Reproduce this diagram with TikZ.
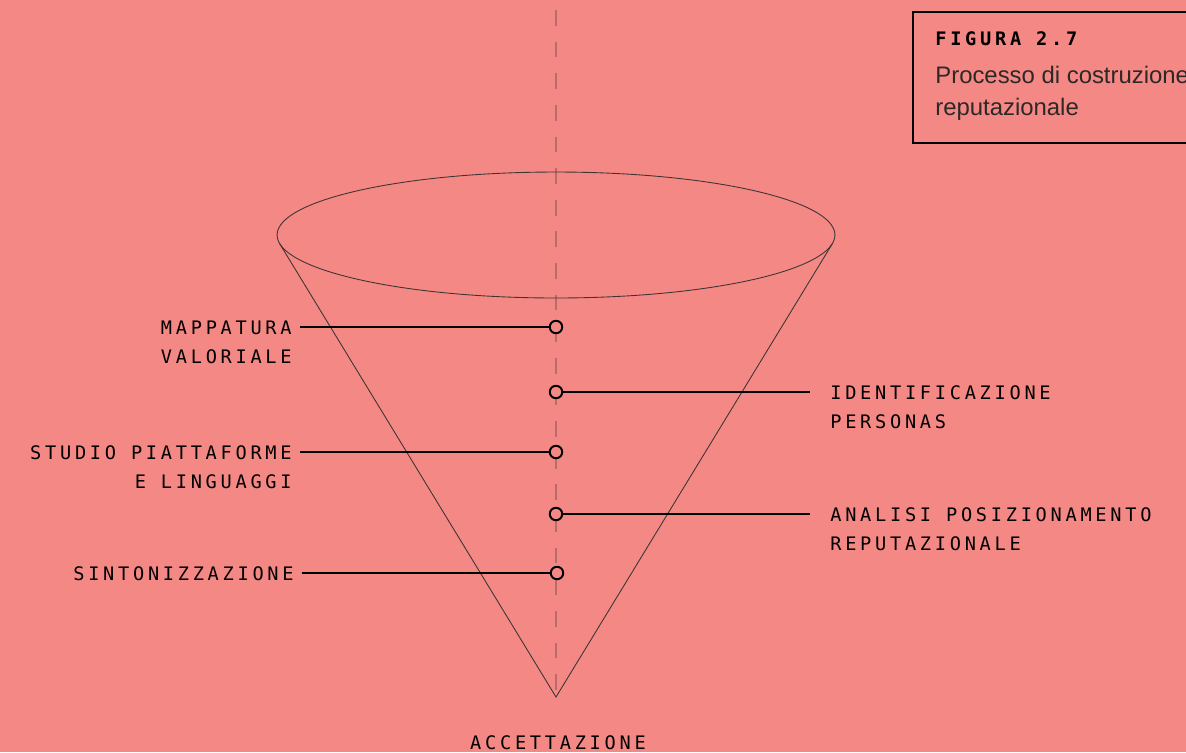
\documentclass[tikz,border=0pt]{standalone}
\usepackage{fontspec}
\newfontfamily\monolbl{DejaVu Sans Mono}[LetterSpace=20]
\newfontfamily\capsans{Liberation Sans}
\newcommand\lblfont{\monolbl\fontsize{10.6}{16.7}\selectfont}
\newcommand\capfont{\capsans\fontsize{13.6}{18.1}\selectfont}
\definecolor{bgpink}{RGB}{244,136,133}
\definecolor{axisgray}{RGB}{186,106,108}
\definecolor{conegray}{RGB}{62,52,52}
\definecolor{captext}{RGB}{45,40,40}
\tikzset{
  lblL/.style={anchor=base east,align=right,font=\lblfont,inner xsep=.16cm,inner ysep=0pt},
  lblR/.style={anchor=base west,align=left,font=\lblfont,inner xsep=.4cm,inner ysep=0pt},
  dot/.style={circle,draw,line width=1.1pt,fill=bgpink,minimum size=.25cm,inner sep=0pt},
  conn/.style={line width=1.1pt}
}
\begin{document}
\begin{tikzpicture}[x=.02cm,y=-.02cm]
\fill[bgpink] (0,0) rectangle (1186,752);
\useasboundingbox (0,0) rectangle (1186,752);
% caption box (cut by the right edge)
\draw[line width=1.1pt] (913,12) rectangle (1200,143);
\node[anchor=base west,inner sep=0pt,font=\lblfont\bfseries] (figtitle) at (935,45) {FIGURA 2.7};
% base anchor sits on the last line
\node[anchor=base west,inner sep=0pt,align=left,font=\capfont,text=captext] (figcap) at (935,115) {Processo di costruzione\\reputazionale};
% axis and cone
\coordinate (axtop) at (556,10);
\coordinate (apex) at (556,697);
\draw[axisgray,line width=1pt,dash pattern=on 9pt off 9pt] (axtop) -- (apex);
\draw[conegray,line width=.5pt] (556,235) ellipse [x radius=5.58cm,y radius=1.26cm];
\draw[conegray,line width=.5pt] (279.6,243.6) -- (apex) -- (832.4,243.6);
% steps
\node[dot] (m1) at (556,327) {};
\node[dot] (m2) at (556,392) {};
\node[dot] (m3) at (556,452) {};
\node[dot] (m4) at (556,514) {};
\node[dot] (m5) at (557,573) {};
\node[lblL] (mappa) at (300,363.5) {MAPPATURA\\VALORIALE};
\node[lblR] (ident) at (810,428.5) {IDENTIFICAZIONE\\PERSONAS};
\node[lblL] (studio) at (300,488.5) {STUDIO PIATTAFORME\\E LINGUAGGI};
\node[lblR] (analisi) at (810,550.5) {ANALISI POSIZIONAMENTO\\REPUTAZIONALE};
\node[lblL] (sinton) at (302,580) {SINTONIZZAZIONE};
\draw[conn] (m1) -- (m1 -| mappa.east);
\draw[conn] (m2) -- (m2 -| ident.west);
\draw[conn] (m3) -- (m3 -| studio.east);
\draw[conn] (m4) -- (m4 -| analisi.west);
\draw[conn] (m5) -- (m5 -| sinton.east);
\node[anchor=base,inner sep=0pt,font=\lblfont] (accett) at (558,749) {ACCETTAZIONE};
\end{tikzpicture}
\end{document}
